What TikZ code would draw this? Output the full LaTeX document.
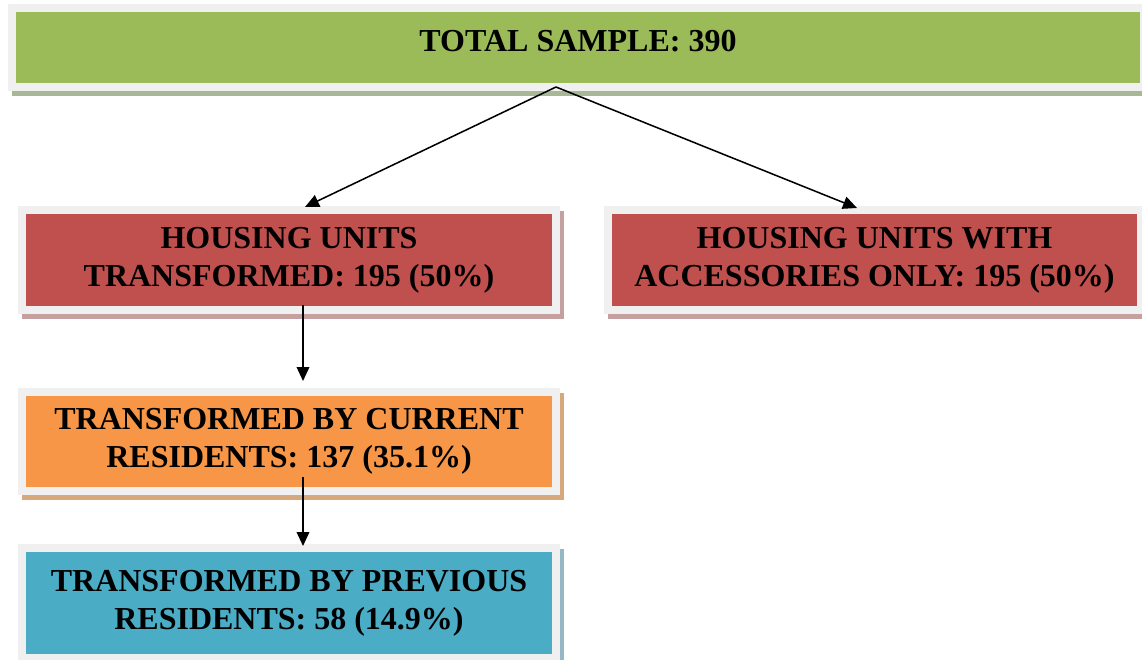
\documentclass[tikz,border=0pt]{standalone}
\usepackage{fontspec}
\setmainfont{Liberation Serif}
\usetikzlibrary{arrows.meta,backgrounds}

\definecolor{framegray}{RGB}{240,240,240}
\definecolor{boxgreen}{RGB}{155,187,89}
\definecolor{boxred}{RGB}{192,80,77}
\definecolor{boxorange}{RGB}{247,150,70}
\definecolor{boxblue}{RGB}{75,172,198}
\definecolor{shgreen}{RGB}{168,184,150}
\definecolor{shred}{RGB}{196,160,160}
\definecolor{shorange}{RGB}{214,168,124}
\definecolor{shblue}{RGB}{150,184,198}

\begin{document}
\begin{tikzpicture}[x=0.75pt,y=-0.75pt,
    box/.style={draw=framegray, line width=6pt, inner sep=0pt, align=center,
      font=\fontsize{24}{28.5}\selectfont\bfseries},
    arrow/.style={-{Triangle[length=10.5pt,width=9.5pt]}, line width=1.15pt, black}]
    % Canvas in pixels of the 1142x660 layout, y running downwards.
    \useasboundingbox (0,0) rectangle (1142,660);

    % Boxes: coloured area plus light frame.
    \node[box, fill=boxgreen, minimum width=849pt, minimum height=59.25pt,
      text height=15.5pt, text depth=9pt] (total) at (578,47.5)
      {TOTAL SAMPLE: 390};
    \node[box, fill=boxred, minimum width=400.5pt, minimum height=75pt] (hut) at (289,260)
      {HOUSING UNITS\\TRANSFORMED: 195 (50\%)};
    \node[box, fill=boxred, minimum width=399.75pt, minimum height=75pt] (acc) at (874.5,260)
      {HOUSING UNITS WITH\\ACCESSORIES ONLY: 195 (50\%)};
    \node[box, fill=boxorange, minimum width=400.5pt, minimum height=74.25pt] (cur) at (289,441.5)
      {TRANSFORMED BY CURRENT\\RESIDENTS: 137 (35.1\%)};
    \node[box, fill=boxblue, minimum width=400.5pt, minimum height=82.5pt] (prev) at (289,603)
      {TRANSFORMED BY PREVIOUS\\RESIDENTS: 58 (14.9\%)};

    % Shadows behind the frames.
    \begin{scope}[on background layer]
      \foreach \n/\c in {total/shgreen, hut/shred, acc/shred, cur/shorange, prev/shblue} {
        \fill[\c] ([shift={(3.5,5)}]\n.north west) rectangle ([shift={(3.5,5)}]\n.south east);
      }
    \end{scope}

    % Connectors.
    \coordinate (split) at (556,87);
    \coordinate (colL) at (305,0);
    \coordinate (colR) at (857,0);
    \coordinate (colV) at (303,0);
    \draw[arrow] (split) -- ([yshift=-0.75pt]hut.north -| colL);
    \draw[arrow] (split) -- ([yshift=-1.5pt]acc.north -| colR);
    \draw[arrow] ([yshift=6.75pt]hut.south -| colV) -- ([yshift=5.25pt]cur.north -| colV);
    \draw[arrow] ([yshift=13.5pt]cur.south -| colV) -- ([yshift=-1.5pt]prev.north -| colV);
  \end{tikzpicture}
\end{document}
